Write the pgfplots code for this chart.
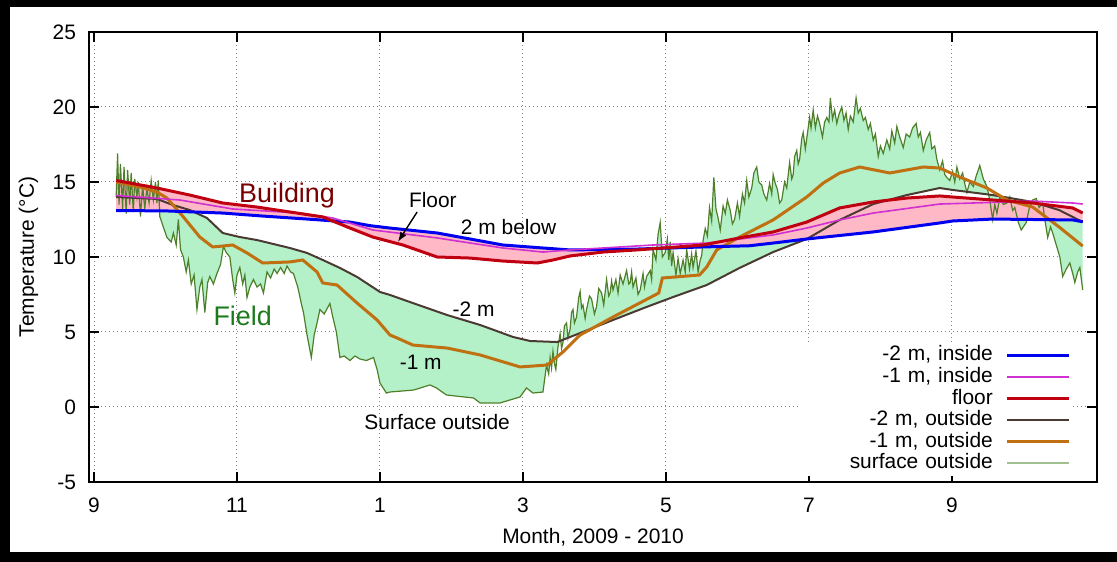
\documentclass[border=0pt]{standalone}
\usepackage{fontspec}
\setmainfont{Liberation Sans}
\usepackage{pgfplots}
\pgfplotsset{compat=1.18}
\usepgfplotslibrary{fillbetween}
\usetikzlibrary{arrows.meta}
\definecolor{cblue}{HTML}{0000F0}
\definecolor{cmag}{HTML}{D030D0}
\definecolor{cred}{HTML}{C00010}
\definecolor{cbrown}{HTML}{4A3A32}
\definecolor{corange}{HTML}{C07010}
\definecolor{cgreen}{HTML}{4F7F2A}
\definecolor{cgreenleg}{HTML}{A0C090}
\definecolor{fgreen}{HTML}{B4F0C8}
\definecolor{fpink}{HTML}{FFB8C6}
\definecolor{tbuild}{HTML}{780000}
\definecolor{tfield}{HTML}{1C7A1C}
\begin{document}
\begin{tikzpicture}[font=\fontsize{10.5}{12.6}\selectfont]
\begin{axis}[
  at={(44.5bp,40bp)}, anchor=south west,
  scale only axis, width=504bp, height=225bp,
  xmin=-0.07, xmax=14.03, ymin=-5, ymax=25,
  xtick={0,2,...,12}, xticklabels={9,11,1,3,5,7,9},
  ytick={-5,0,...,25}, yticklabels={-5,0,5,10,15,20,25},
  tick align=inside, major tick length=5bp,
  axis line style={line width=0.9bp},
  every tick/.style={black, line width=0.9bp},
  grid=major, grid style={gray, line width=0.5bp, dash pattern=on 0.6bp off 1.4bp},
  set layers,
  xlabel={Month, 2009 - 2010}, ylabel={Temperature (°C)},
  xlabel style={at={(axis description cs:0.5,-0.1356)}, anchor=base},
  ylabel style={at={(axis description cs:-0.0546,0.5)}, anchor=base},
  yticklabel style={xshift=-3bp},
  xticklabel style={yshift=-4.5bp},
  legend style={at={(0.976,0.311)}, anchor=north east, draw=none, fill=white,
    inner sep=1bp, column sep=6bp, row sep=0pt,
    nodes={inner sep=0.3bp, text height=7.9bp, text depth=2.3bp, text width=95bp, align=right}},
  legend cell align=right, legend plot pos=right,
  legend image code/.code={\draw[#1] (0bp,0bp) -- (31bp,0bp);},
]
% surface outside
\addplot[cgreen, line width=0.6bp, name path=surf, forget plot] table {
x y
0.31 14.0
0.33 16.9
0.35 13.5
0.37 16.2
0.40 13.2
0.42 16.0
0.45 12.9
0.47 15.8
0.50 13.5
0.52 15.6
0.55 13.0
0.57 15.2
0.60 14.0
0.62 15.0
0.65 12.7
0.68 14.8
0.71 13.2
0.74 14.6
0.77 13.6
0.80 15.1
0.83 13.8
0.86 15.0
0.88 13.6
0.90 15.1
0.92 12.7
0.97 12.0
1.02 11.3
1.08 11.0
1.11 11.6
1.15 10.8
1.18 12.5
1.21 10.5
1.25 10.0
1.29 9.0
1.32 9.8
1.36 8.2
1.40 8.8
1.44 6.5
1.48 8.0
1.51 8.5
1.55 6.3
1.59 8.3
1.62 8.7
1.67 8.2
1.72 8.9
1.77 9.5
1.81 10.7
1.85 10.3
1.90 10.0
1.94 8.5
1.97 7.6
2.00 8.8
2.04 9.3
2.08 8.2
2.11 8.8
2.14 7.3
2.18 8.0
2.23 8.5
2.28 8.0
2.33 8.2
2.37 7.6
2.42 9.0
2.47 8.6
2.52 9.2
2.56 8.9
2.61 9.3
2.66 8.9
2.70 9.4
2.75 9.0
2.79 8.9
2.85 8.0
2.90 6.9
2.93 6.3
2.98 4.8
3.04 3.3
3.08 4.8
3.12 5.6
3.16 6.5
3.22 6.2
3.30 6.9
3.34 6.0
3.39 5.0
3.44 3.3
3.50 3.4
3.58 3.1
3.65 3.4
3.72 3.2
3.81 3.1
3.91 3.3
3.96 2.5
4.00 1.6
4.09 0.93
4.14 1.0
4.47 1.13
4.70 1.47
4.79 1.27
4.93 0.8
5.31 0.6
5.40 0.27
5.68 0.27
5.96 0.67
6.05 1.27
6.14 0.93
6.28 1.0
6.33 2.8
6.36 2.2
6.38 3.3
6.40 2.6
6.42 3.7
6.44 2.9
6.46 2.5
6.49 4.0
6.52 4.9
6.54 3.9
6.56 4.3
6.58 5.4
6.61 5.6
6.63 4.6
6.66 5.2
6.68 6.3
6.70 6.5
6.72 5.6
6.75 6.0
6.78 7.3
6.80 7.7
6.82 6.6
6.84 6.8
6.87 5.9
6.89 6.5
6.93 7.4
6.96 7.2
7.00 6.2
7.03 6.7
7.06 7.9
7.10 7.6
7.13 6.8
7.17 8.5
7.20 7.4
7.22 7.6
7.24 8.4
7.26 7.8
7.30 8.5
7.33 7.6
7.36 8.8
7.40 8.2
7.45 9.1
7.48 8.2
7.50 8.3
7.52 9.0
7.54 8.0
7.58 8.6
7.61 7.5
7.64 7.8
7.68 8.9
7.70 8.0
7.73 8.7
7.78 9.1
7.80 8.5
7.82 10.5
7.86 9.8
7.89 11.5
7.92 12.3
7.95 10.0
7.99 10.3
8.02 11.2
8.04 9.8
8.06 11.0
8.08 9.4
8.10 10.3
8.14 8.8
8.17 9.9
8.20 8.9
8.24 9.8
8.27 9.0
8.29 10.5
8.33 9.2
8.36 10.2
8.38 9.3
8.42 10.4
8.45 9.0
8.48 9.8
8.50 10.1
8.52 11.1
8.55 11.9
8.58 11.4
8.61 13.3
8.64 12.4
8.67 15.3
8.70 13.2
8.73 12.6
8.76 11.8
8.80 13.4
8.83 12.9
8.86 13.8
8.90 13.1
8.93 12.2
8.96 12.5
9.00 13.6
9.03 12.7
9.07 14.2
9.10 13.6
9.13 15.1
9.16 14.0
9.20 14.6
9.23 15.6
9.27 16.0
9.30 15.0
9.34 14.8
9.37 14.2
9.41 13.8
9.45 14.9
9.48 14.2
9.50 15.5
9.53 14.9
9.56 14.5
9.59 13.6
9.62 13.8
9.66 15.0
9.69 14.6
9.73 16.3
9.76 15.2
9.78 15.5
9.80 16.7
9.83 17.1
9.85 16.2
9.87 16.5
9.90 17.9
9.92 18.3
9.95 17.2
9.97 17.9
10.01 19.3
10.03 18.6
10.06 19.8
10.09 18.6
10.12 19.4
10.15 18.9
10.19 18.0
10.22 19.0
10.25 19.3
10.28 19.0
10.30 20.6
10.33 19.2
10.36 19.8
10.39 18.9
10.42 19.5
10.46 20.0
10.49 19.1
10.52 19.6
10.55 18.5
10.58 19.4
10.62 19.0
10.66 20.6
10.69 19.6
10.72 19.9
10.76 19.1
10.79 19.3
10.83 18.5
10.86 18.9
10.90 17.8
10.93 18.2
10.97 16.7
11.00 17.4
11.04 16.9
11.09 17.8
11.13 17.2
11.16 18.4
11.20 17.6
11.23 18.7
11.27 18.0
11.32 17.3
11.36 18.2
11.41 18.0
11.45 18.6
11.50 18.9
11.53 18.0
11.56 18.3
11.60 17.1
11.64 17.8
11.69 18.3
11.72 17.2
11.76 17.4
11.79 16.5
11.83 15.8
11.87 16.4
11.90 15.5
11.93 15.3
11.97 15.1
12.01 15.7
12.04 15.0
12.07 16.0
12.11 15.2
12.15 15.6
12.18 14.9
12.21 14.3
12.25 15.0
12.30 14.7
12.34 15.4
12.39 16.1
12.44 15.2
12.49 14.7
12.53 13.8
12.57 12.5
12.60 13.5
12.63 12.9
12.67 14.0
12.72 13.5
12.77 13.6
12.81 14.0
12.85 13.1
12.88 13.3
12.93 12.3
12.97 11.8
13.04 12.3
13.08 13.2
13.13 13.8
13.18 13.9
13.22 13.3
13.27 13.6
13.30 12.5
13.34 11.3
13.38 12.0
13.41 11.6
13.46 10.8
13.51 10.0
13.55 8.7
13.60 9.2
13.65 9.6
13.69 8.9
13.72 8.3
13.76 9.0
13.79 9.3
13.83 7.8
};
% -2 m outside
\addplot[cbrown, line width=1bp, name path=out2, forget plot] table {
x y
0.31 14.00
0.88 13.87
1.10 13.47
1.34 13.13
1.58 12.60
1.80 11.60
2.04 11.33
2.28 11.13
2.74 10.60
2.98 10.27
3.20 9.80
3.44 9.27
3.68 8.67
4.00 7.67
4.14 7.47
4.46 6.93
4.94 6.13
5.40 5.47
5.86 4.67
6.10 4.40
6.48 4.33
6.80 4.93
7.26 5.80
7.73 6.67
8.10 7.33
8.57 8.13
9.03 9.27
9.50 10.33
9.97 11.20
10.43 12.47
10.90 13.53
11.37 14.13
11.83 14.60
12.01 14.47
12.57 14.13
13.13 13.67
13.50 13.13
13.83 12.33
};
% -1 m outside
\addplot[corange, line width=1.5bp, forget plot] table {
x y
0.31 15.00
0.64 14.67
0.88 14.33
1.02 13.93
1.25 12.67
1.48 11.33
1.66 10.67
1.80 10.73
1.94 10.80
2.14 10.27
2.36 9.60
2.74 9.67
2.92 9.80
3.12 9.00
3.20 8.27
3.40 8.13
3.68 6.93
3.96 5.80
4.14 4.80
4.24 4.60
4.46 4.13
4.94 3.93
5.40 3.47
5.96 2.67
6.34 2.80
6.56 3.67
6.80 4.80
7.26 6.00
7.70 7.10
7.90 7.60
7.95 8.60
8.47 8.80
8.57 9.33
8.71 10.47
9.03 11.33
9.50 12.47
9.97 14.00
10.20 14.93
10.43 15.60
10.71 16.00
11.13 15.60
11.60 16.00
11.83 15.93
12.11 15.33
12.49 14.60
12.77 13.80
13.13 13.33
13.50 12.00
13.83 10.73
};
% -2 m inside
\addplot[cblue, line width=1.5bp, name path=in2, forget plot] table {
x y
0.31 13.10
1.02 13.07
1.80 12.93
2.36 12.73
2.98 12.53
3.58 12.33
3.86 12.09
4.14 11.93
4.80 11.60
5.72 10.80
6.28 10.60
6.66 10.47
7.59 10.53
8.52 10.67
9.17 10.75
9.50 10.93
9.97 11.20
10.90 11.67
11.83 12.27
12.01 12.40
12.57 12.53
13.69 12.47
13.83 12.35
};
% -1 m inside
\addplot[cmag, line width=0.8bp, forget plot] table {
x y
0.31 14.10
1.20 13.80
1.94 13.20
2.88 12.93
3.34 12.60
3.90 11.80
4.80 11.27
5.72 10.60
6.28 10.33
6.66 10.47
7.12 10.60
7.82 10.80
8.57 10.93
9.50 11.47
9.97 11.93
10.43 12.47
10.90 12.93
11.83 13.53
12.77 13.67
13.13 13.73
13.69 13.60
13.83 13.53
};
% floor
\addplot[cred, line width=1.5bp, name path=floor, forget plot] table {
x y
0.31 15.10
0.88 14.60
1.34 14.13
1.80 13.60
2.28 13.33
2.74 13.00
3.20 12.67
3.58 11.93
3.90 11.33
4.32 10.80
4.80 10.00
5.26 9.93
5.72 9.73
6.20 9.60
6.42 9.80
6.66 10.07
7.12 10.33
7.59 10.47
8.52 10.80
9.03 11.27
9.50 11.67
9.97 12.33
10.43 13.27
10.90 13.67
11.37 13.93
11.83 14.07
12.01 14.00
12.57 13.80
13.13 13.60
13.69 13.27
13.83 12.93
};
\addplot[fgreen, draw=none, forget plot] fill between[of=surf and out2];
\addplot[fpink, draw=none, forget plot] fill between[of=floor and in2];
\addlegendimage{cblue, line width=1.5bp}
\addlegendentry{-2 m, inside}
\addlegendimage{cmag, line width=0.8bp}
\addlegendentry{-1 m, inside}
\addlegendimage{cred, line width=1.5bp}
\addlegendentry{floor}
\addlegendimage{cbrown, line width=1bp}
\addlegendentry{-2 m, outside}
\addlegendimage{corange, line width=1.5bp}
\addlegendentry{-1 m, outside}
\addlegendimage{cgreenleg, line width=1bp}
\addlegendentry{surface outside}
\node[anchor=base, text=tbuild, font=\fontsize{13.5}{16}\selectfont] at (axis cs:2.70,13.6) {Building};
\node[anchor=base, text=tfield, font=\fontsize{13.5}{16}\selectfont] at (axis cs:2.08,5.4) {Field};
\node[anchor=base] at (axis cs:4.74,13.27) {Floor};
\draw[line width=0.7bp, -{Latex[length=5bp,width=3.5bp]}] (axis cs:4.52,13.0) -- (axis cs:4.25,11.0);
\node[anchor=base] at (axis cs:5.80,11.47) {2 m below};
\node[anchor=base] at (axis cs:5.31,6.0) {-2 m};
\node[anchor=base] at (axis cs:4.57,2.53) {-1 m};
\node[anchor=base] at (axis cs:4.80,-1.47) {Surface outside};
\end{axis}
\fill[black] (0,277.5bp) rectangle (558.5bp,281bp);
\fill[black] (0,0) rectangle (5bp,281bp);
\fill[black] (0,0) rectangle (558.5bp,5bp);
\pgfresetboundingbox
\useasboundingbox (0,0) rectangle (558.5bp,281bp);
\end{tikzpicture}
\end{document}
